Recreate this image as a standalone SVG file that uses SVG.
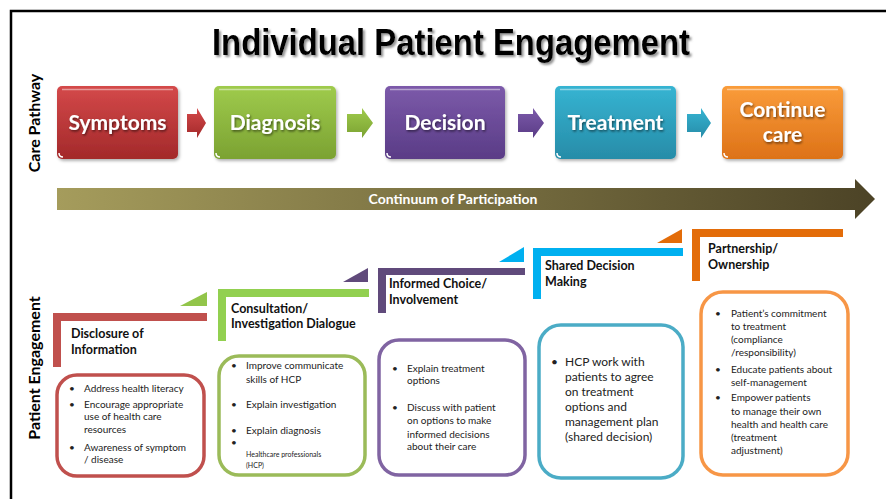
<svg xmlns="http://www.w3.org/2000/svg" width="886" height="499" viewBox="0 0 886 499">
  <defs>
    <style>
      .title { font-family: "Liberation Sans", Arial, sans-serif; font-weight: 700; font-size: 37px; fill: #000; }
      .side { font-family: Lato, "Open Sans", sans-serif; font-weight: 700; font-size: 16px; fill: #000; }
      .step { font-family: Lato, "Open Sans", sans-serif; font-weight: 700; font-size: 21px; fill: #fff; text-anchor: middle; }
      .cont { font-family: Lato, "Open Sans", sans-serif; font-weight: 700; font-size: 14px; fill: #fff; text-anchor: middle; }
      .lvl { font-family: Lato, "Open Sans", sans-serif; font-weight: 700; font-size: 12.5px; fill: #111; }
      .txt { font-family: Lato, "Open Sans", sans-serif; font-size: 10px; fill: #222; }
      .txt-l { font-family: Lato, "Open Sans", sans-serif; font-size: 12px; fill: #222; }
      .tiny { font-family: Lato, "Open Sans", sans-serif; font-size: 7px; fill: #222; }
      .gloss { fill: none; stroke: #fff; stroke-opacity: 0.45; stroke-width: 1.5; }
      .card { fill: #fff; stroke-width: 3.5; }
    </style>
    <filter id="tshadow" x="-10%" y="-30%" width="130%" height="170%">
      <feDropShadow dx="2" dy="2" stdDeviation="1" flood-color="#777" flood-opacity="0.8"/>
    </filter>
    <filter id="wshadow" x="-10%" y="-30%" width="130%" height="170%">
      <feDropShadow dx="1" dy="1.5" stdDeviation="0.8" flood-color="#000" flood-opacity="0.55"/>
    </filter>
    <filter id="bshadow" x="-10%" y="-10%" width="125%" height="130%">
      <feDropShadow dx="1.5" dy="2" stdDeviation="1.5" flood-color="#000" flood-opacity="0.3"/>
    </filter>
    <linearGradient id="gRed" x1="0" y1="0" x2="0" y2="1">
      <stop offset="0" stop-color="#D4494A"/><stop offset="1" stop-color="#A3292A"/>
    </linearGradient>
    <linearGradient id="gGreen" x1="0" y1="0" x2="0" y2="1">
      <stop offset="0" stop-color="#9FCB4C"/><stop offset="1" stop-color="#7BA232"/>
    </linearGradient>
    <linearGradient id="gPurple" x1="0" y1="0" x2="0" y2="1">
      <stop offset="0" stop-color="#7C5AAA"/><stop offset="1" stop-color="#5A3C86"/>
    </linearGradient>
    <linearGradient id="gTeal" x1="0" y1="0" x2="0" y2="1">
      <stop offset="0" stop-color="#36B4D2"/><stop offset="1" stop-color="#278CA8"/>
    </linearGradient>
    <linearGradient id="gOrange" x1="0" y1="0" x2="0" y2="1">
      <stop offset="0" stop-color="#FA9C3A"/><stop offset="1" stop-color="#DD7218"/>
    </linearGradient>
    <linearGradient id="gCont" x1="0" y1="0" x2="1" y2="0">
      <stop offset="0" stop-color="#A59C5C"/><stop offset="1" stop-color="#4C4326"/>
    </linearGradient>
  </defs>

  <!-- frame -->
  <path d="M11 499 V11 H886" fill="none" stroke="#000" stroke-width="2.5"/>

  <!-- title -->
  <text class="title" x="212" y="55" textLength="478" lengthAdjust="spacingAndGlyphs" filter="url(#tshadow)">Individual Patient Engagement</text>

  <!-- side labels -->
  <text class="side" transform="translate(40 123) rotate(-90)" text-anchor="middle">Care Pathway</text>
  <text class="side" transform="translate(40 368) rotate(-90)" text-anchor="middle">Patient Engagement</text>

  <!-- care pathway steps -->
  <g id="symptoms" filter="url(#bshadow)">
    <rect x="57" y="86" width="121" height="73" rx="5" fill="url(#gRed)"/>
    <path class="gloss" d="M62 89.5 H173"/>
    <path d="M59 153 q0 4 4 4" fill="none" stroke="#fff" stroke-width="1.5"/>
    <text class="step" x="117.5" y="130" filter="url(#wshadow)">Symptoms</text>
  </g>
  <g id="diagnosis" filter="url(#bshadow)">
    <rect x="214" y="86" width="122" height="73" rx="5" fill="url(#gGreen)"/>
    <path class="gloss" d="M219 89.5 H331"/>
    <path d="M216 153 q0 4 4 4" fill="none" stroke="#fff" stroke-width="1.5"/>
    <text class="step" x="275" y="130" filter="url(#wshadow)">Diagnosis</text>
  </g>
  <g id="decision" filter="url(#bshadow)">
    <rect x="385" y="86" width="120" height="73" rx="5" fill="url(#gPurple)"/>
    <path class="gloss" d="M390 89.5 H500"/>
    <path d="M387 153 q0 4 4 4" fill="none" stroke="#fff" stroke-width="1.5"/>
    <text class="step" x="445" y="130" filter="url(#wshadow)">Decision</text>
  </g>
  <g id="treatment" filter="url(#bshadow)">
    <rect x="555" y="86" width="121" height="73" rx="5" fill="url(#gTeal)"/>
    <path class="gloss" d="M560 89.5 H671"/>
    <path d="M557 153 q0 4 4 4" fill="none" stroke="#fff" stroke-width="1.5"/>
    <text class="step" x="615.5" y="130" filter="url(#wshadow)">Treatment</text>
  </g>
  <g id="continue-care" filter="url(#bshadow)">
    <rect x="722" y="86" width="121" height="73" rx="5" fill="url(#gOrange)"/>
    <path class="gloss" d="M727 89.5 H838"/>
    <path d="M724 153 q0 4 4 4" fill="none" stroke="#fff" stroke-width="1.5"/>
    <text class="step" x="782.5" y="117" filter="url(#wshadow)">Continue</text>
    <text class="step" x="782.5" y="142" filter="url(#wshadow)">care</text>
  </g>

  <!-- connectors between steps -->
  <g id="connectors">
    <polygon points="187,114 197,114 197,108 206,123 197,138 197,132 187,132" fill="url(#gRed)"/>
    <polygon points="347,114 362,114 362,108 373,123 362,138 362,132 347,132" fill="url(#gGreen)"/>
    <polygon points="518,114 533,114 533,108 544,123 533,138 533,132 518,132" fill="url(#gPurple)"/>
    <polygon points="687,114 701,114 701,108 711,123 701,138 701,132 687,132" fill="url(#gTeal)"/>
  </g>

  <!-- continuum of participation -->
  <g id="continuum">
    <polygon points="57,188 855,188 855,179 875,199 855,219 855,210 57,210" fill="url(#gCont)"/>
    <text class="cont" x="453" y="204">Continuum of Participation</text>
  </g>

  <!-- engagement levels -->
  <g id="level-disclosure">
    <path d="M53 313 H207 V321 H61 V367 H53 Z" fill="#C0504D"/>
    <text class="lvl" x="71" y="338">Disclosure of</text>
    <text class="lvl" x="71" y="354">Information</text>
    <rect class="card" x="57" y="375" width="147" height="101" rx="20" stroke="#C0504D"/>
    <text class="txt" x="69" y="392">•</text><text class="txt" x="84" y="392">Address health literacy</text>
    <text class="txt" x="69" y="408">•</text><text class="txt" x="84" y="408">Encourage appropriate</text>
    <text class="txt" x="84" y="420">use of health care</text>
    <text class="txt" x="84" y="433">resources</text>
    <text class="txt" x="69" y="451">•</text><text class="txt" x="84" y="451">Awareness of symptom</text>
    <text class="txt" x="84" y="463">/ disease</text>
  </g>

  <g id="level-consultation">
    <polygon points="180,306 207,306 207,292" fill="#92C54A"/>
    <path d="M218 289 H369 V297 H226 V341 H218 Z" fill="#92D050"/>
    <text class="lvl" x="231" y="313">Consultation/</text>
    <text class="lvl" x="231" y="328">Investigation Dialogue</text>
    <rect class="card" x="219" y="356" width="146" height="119" rx="20" stroke="#9BBB59"/>
    <text class="txt" x="231" y="369">•</text><text class="txt" x="246" y="369">Improve communicate</text>
    <text class="txt" x="246" y="383">skills of HCP</text>
    <text class="txt" x="231" y="408">•</text><text class="txt" x="246" y="408">Explain investigation</text>
    <text class="txt" x="231" y="434">•</text><text class="txt" x="246" y="434">Explain diagnosis</text>
    <text class="txt" x="231" y="446">•</text>
    <text class="tiny" x="246" y="457">Healthcare professionals</text>
    <text class="tiny" x="246" y="468">(HCP)</text>
  </g>

  <g id="level-informed">
    <polygon points="343,282 368,282 368,268" fill="#604A7B"/>
    <path d="M378 268 H525 V275 H386 V313 H378 Z" fill="#604A7B"/>
    <text class="lvl" x="389" y="288">Informed Choice/</text>
    <text class="lvl" x="389" y="304">Involvement</text>
    <rect class="card" x="379" y="340" width="146" height="135" rx="20" stroke="#8064A2"/>
    <text class="txt" x="392" y="372">•</text><text class="txt" x="407" y="372">Explain treatment</text>
    <text class="txt" x="407" y="384">options</text>
    <text class="txt" x="392" y="411">•</text><text class="txt" x="407" y="411">Discuss with patient</text>
    <text class="txt" x="407" y="424">on options to make</text>
    <text class="txt" x="407" y="438">informed decisions</text>
    <text class="txt" x="407" y="450">about their care</text>
  </g>

  <g id="level-shared">
    <polygon points="499,262 524,262 524,247" fill="#00B0F0"/>
    <path d="M533 248 H683 V256 H541 V299 H533 Z" fill="#00B0F0"/>
    <text class="lvl" x="545" y="270">Shared Decision</text>
    <text class="lvl" x="545" y="286">Making</text>
    <rect class="card" x="539" y="325" width="144" height="153" rx="22" stroke="#4BACC6"/>
    <text class="txt-l" x="551" y="366">•</text><text class="txt-l" x="565" y="366">HCP work with</text>
    <text class="txt-l" x="565" y="381">patients to agree</text>
    <text class="txt-l" x="565" y="396">on treatment</text>
    <text class="txt-l" x="565" y="411">options and</text>
    <text class="txt-l" x="565" y="426">management plan</text>
    <text class="txt-l" x="565" y="441">(shared decision)</text>
  </g>

  <g id="level-partnership">
    <polygon points="657,243 682,243 682,229" fill="#E36C09"/>
    <path d="M692 229 H843 V237 H700 V281 H692 Z" fill="#E36C09"/>
    <text class="lvl" x="708" y="253">Partnership/</text>
    <text class="lvl" x="708" y="269">Ownership</text>
    <rect class="card" x="701" y="292" width="147" height="183" rx="22" stroke="#F79646"/>
    <text class="txt" x="715" y="317">•</text><text class="txt" x="731" y="317">Patient’s commitment</text>
    <text class="txt" x="731" y="330">to treatment</text>
    <text class="txt" x="731" y="343">(compliance</text>
    <text class="txt" x="731" y="356">/responsibility)</text>
    <text class="txt" x="715" y="373">•</text><text class="txt" x="731" y="373">Educate patients about</text>
    <text class="txt" x="731" y="386">self-management</text>
    <text class="txt" x="715" y="401">•</text><text class="txt" x="731" y="401">Empower patients</text>
    <text class="txt" x="731" y="415">to manage their own</text>
    <text class="txt" x="731" y="428">health and health care</text>
    <text class="txt" x="731" y="441">(treatment</text>
    <text class="txt" x="731" y="454">adjustment)</text>
  </g>
</svg>
